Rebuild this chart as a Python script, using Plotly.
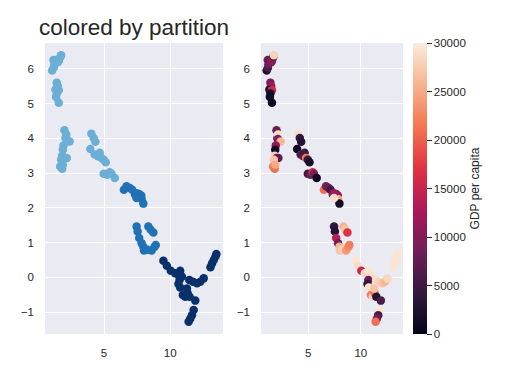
import plotly.graph_objects as go

# ---- data ----
x_vals = [1.07, 1.19, 1.24, 1.17, 1.37, 1.57, 1.50, 1.62, 1.72, 1.75,
          1.42, 1.50, 1.32, 1.57, 1.42, 1.37, 1.57,
          2.00, 2.08, 2.14, 2.13, 2.39, 1.93, 1.88, 1.83, 2.00, 2.18, 1.75, 1.68, 1.83, 1.88,
          4.04, 4.21, 4.34, 3.96, 4.29, 4.54, 4.67, 4.80, 4.97, 5.13, 4.97, 5.23, 5.43, 5.56, 5.81,
          6.50, 6.70, 6.95, 7.13, 7.34, 7.51, 7.66, 7.82, 7.84, 7.97, 7.46, 7.46,
          7.46, 7.54, 7.66, 7.84, 7.97, 8.02, 8.27, 8.35, 8.53, 8.73, 8.60, 8.81, 8.91,
          9.49, 9.75, 10.05, 10.38, 10.63, 10.76, 10.89, 10.71, 10.63, 10.76, 10.96, 11.14,
          11.32, 11.47, 11.90, 11.27, 11.45, 11.73, 12.03, 12.28, 12.54, 11.78, 11.65, 11.52,
          11.40, 13.05, 13.17, 13.30, 13.43, 13.50]
y_vals = [5.95, 6.03, 6.13, 6.25, 6.25, 6.22, 6.19, 6.29, 6.36, 6.39,
          5.60, 5.50, 5.40, 5.38, 5.29, 5.19, 5.02,
          4.23, 4.00, 4.11, 3.98, 3.91, 3.79, 3.67, 3.50, 3.43, 3.43, 3.38, 3.19, 3.12, 3.24,
          4.13, 4.01, 3.90, 3.69, 3.53, 3.48, 3.58, 3.43, 3.38, 3.31, 2.98, 2.95, 3.02, 2.98, 2.86,
          2.52, 2.62, 2.57, 2.52, 2.38, 2.33, 2.40, 2.35, 2.25, 2.12, 2.42, 2.28,
          1.46, 1.32, 1.13, 0.98, 0.88, 0.77, 0.79, 1.46, 1.37, 1.29, 0.77, 0.87, 0.93,
          0.48, 0.33, 0.19, 0.12, 0.07, 0.19, 0.02, -0.08, -0.19, -0.29, -0.51, -0.56,
          -0.46, -0.56, -0.67, -0.32, -0.08, -0.13, -0.17, -0.13, -0.03, -0.94, -1.09, -1.19,
          -1.28, 0.29, 0.40, 0.50, 0.60, 0.67]
partition = [0] * 46 + [1] * 25 + [2] * 30
gdp = [3000, 6000, 8000, 9000, 7000, 9000, 10000, 11000, 4000, 28000,
       9000, 12000, 3000, 15500, 2000, 1500, 800,
       8000, 10000, 29000, 9000, 26000, 11000, 1500, 28000, 8000, 7000, 27000, 22000, 21000, 25000,
       29000, 4000, 3000, 1000, 6000, 7000, 5000, 22000, 4000, 2000, 5000, 8000, 16000, 9000, 1000,
       21000, 9000, 8000, 5000, 10000, 13000, 7000, 11000, 25000, 1500, 12000, 29000,
       4000, 3000, 14000, 9000, 26000, 27000, 28000, 26000, 27000, 17000, 24000, 23000, 22000,
       29500, 29000, 15500, 29000, 28000, 29500, 29000, 8000, 4000, 29000, 22000, 28000,
       21000, 3000, 6000, 27000, 29000, 28000, 27000, 26000, 28500, 29500, 6000, 9000,
       21000, 29500, 29500, 29500, 29500, 29500]
partition_colors = ["#6baed6", "#2171b5", "#08306b"]
x_ticks = [5, 10]
y_ticks = [-1, 0, 1, 2, 3, 4, 5, 6]
cbar_ticks = [0, 5000, 10000, 15000, 20000, 25000, 30000]

rocket = [[0.0, "#03051a"], [0.143, "#35193e"], [0.286, "#701f57"], [0.429, "#ad1759"],
          [0.571, "#e13342"], [0.714, "#f37651"], [0.857, "#f6b48f"], [1.0, "#faebdd"]]

# the page body has an 8px default margin, so the figure is drawn 8px in
OFF = 8
W, H = 509 - OFF, 370 - OFF


def px(x):
    return (x - OFF) / W


def py(y):
    return (H - (y - OFF)) / H


FONT = "Liberation Sans, Arial, sans-serif"
TXT = "#262626"

fig = go.Figure()
fig.add_trace(go.Scatter(
    x=x_vals, y=y_vals, mode="markers", xaxis="x", yaxis="y",
    marker=dict(size=8.5, color=[partition_colors[p] for p in partition], line=dict(width=0)),
    showlegend=False, hoverinfo="skip"))
fig.add_trace(go.Scatter(
    x=x_vals, y=y_vals, mode="markers", xaxis="x2", yaxis="y2",
    marker=dict(size=8.5, color=gdp, colorscale=rocket, cmin=0, cmax=30000,
                line=dict(width=0),
                colorbar=dict(
                    x=px(413), xanchor="left", xpad=0, y=py(334), yanchor="bottom", ypad=0,
                    len=291, lenmode="pixels", thickness=14, thicknessmode="pixels",
                    outlinewidth=0, ticks="outside", ticklen=5, tickwidth=1, tickcolor=TXT,
                    tickvals=cbar_ticks, tickformat="d",
                    tickfont=dict(size=11.5, color=TXT, family=FONT),
                    title=dict(text="GDP per capita", side="right",
                               font=dict(size=12, color=TXT, family=FONT)))),
    showlegend=False, hoverinfo="skip"))

ax_common = dict(showgrid=True, gridcolor="white", gridwidth=1.3, zeroline=False,
                 showline=False, ticks="", tickfont=dict(size=11.5, color=TXT, family=FONT))
xr = [0.53, 14.0]
yr = [-1.63, 6.74]
ydom = [py(334), py(43)]
fig.update_layout(
    template="none",
    width=W, height=H, margin=dict(l=0, r=0, t=0, b=0),
    paper_bgcolor="white", plot_bgcolor="#eaeaf2",
    font=dict(family=FONT, color=TXT),
    xaxis=dict(domain=[px(45), px(223)], range=xr, tickvals=x_ticks, anchor="y",
               ticklabelstandoff=10, **ax_common),
    yaxis=dict(domain=ydom, range=yr, tickvals=y_ticks, anchor="x",
               ticklabelstandoff=10, **ax_common),
    xaxis2=dict(domain=[px(261), px(403)], range=xr, tickvals=x_ticks, anchor="y2",
                ticklabelstandoff=10, **ax_common),
    yaxis2=dict(domain=ydom, range=yr, tickvals=y_ticks, anchor="x2",
                ticklabelstandoff=10, **ax_common),
    annotations=[dict(text="colored by partition", xref="paper", yref="paper",
                      x=px(134), y=py(28), xanchor="center", yanchor="middle",
                      showarrow=False, font=dict(size=22.5, color=TXT, family=FONT))],
)
fig.write_html("out.html")
